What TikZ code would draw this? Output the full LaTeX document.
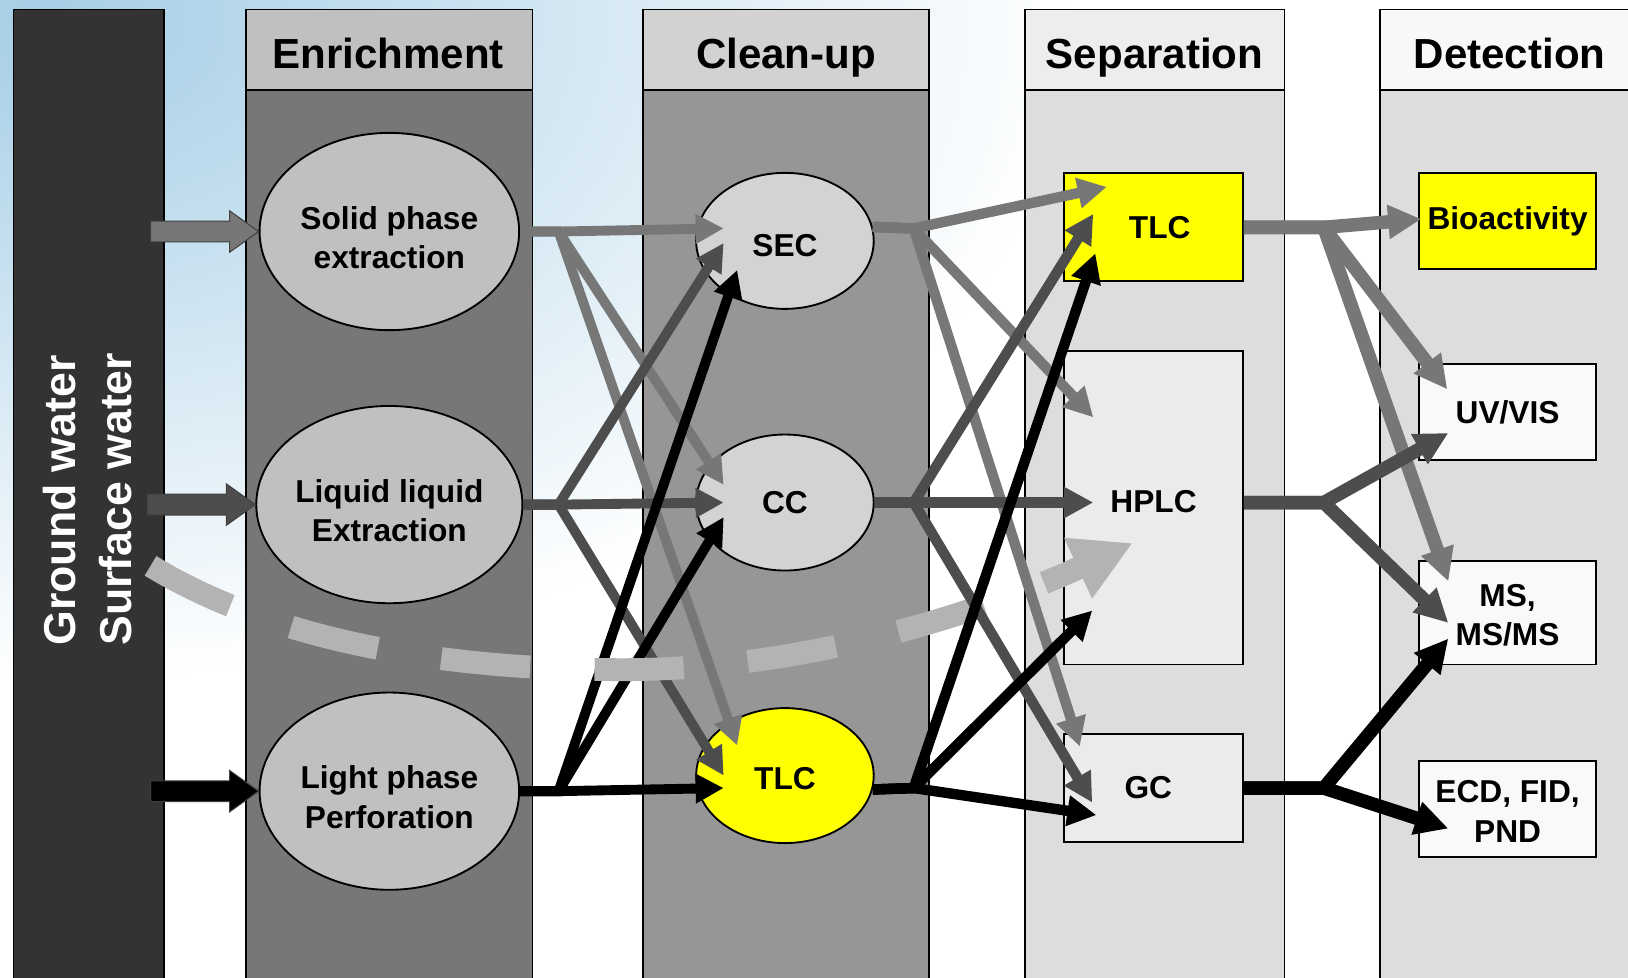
\documentclass[tikz,border=0pt]{standalone}
\usepackage{fontspec}
\setmainfont{Liberation Sans}
\usetikzlibrary{shapes.geometric,arrows.meta}
\definecolor{sky}{HTML}{A6CEE6}
\definecolor{barc}{HTML}{333333}
\definecolor{enh}{HTML}{C0C0C0}
\definecolor{enb}{HTML}{777777}
\definecolor{clh}{HTML}{D2D2D2}
\definecolor{clb}{HTML}{969696}
\definecolor{seh}{HTML}{EDEDED}
\definecolor{seb}{HTML}{DDDDDD}
\definecolor{deh}{HTML}{F8F8F8}
\definecolor{deb}{HTML}{DDDDDD}
\definecolor{ellA}{HTML}{C0C0C0}
\definecolor{ellB}{HTML}{D3D3D3}
\definecolor{boxs}{HTML}{EBEBEB}
\definecolor{boxd}{HTML}{F9F9F9}
\definecolor{ylw}{HTML}{FFFF00}
\definecolor{cg}{HTML}{777777}
\definecolor{cd}{HTML}{4D4D4D}
\definecolor{ck}{HTML}{000000}
\definecolor{dashc}{HTML}{B3B3B3}
\newcommand{\upstrut}{\rule{0pt}{34pt}}
\begin{document}
\begin{tikzpicture}[x=1pt,y=-1pt,
  colline/.style={draw=black, line width=1.6pt},
  hdr/.style={font=\bfseries\fontsize{40.5}{48}\selectfont, text height=29pt, text depth=0pt, inner sep=0pt},
  lbl/.style={font=\bfseries\fontsize{30.5}{38}\selectfont, align=center, inner sep=0pt},
  ell/.style={ellipse, draw=black, line width=1.8pt, lbl},
  bx/.style={rectangle, draw=black, line width=1.8pt, lbl},
  side/.style={rotate=90, anchor=base west, text=white, inner sep=0pt, font=\bfseries\fontsize{43}{50}\selectfont},
  barrow/.style={draw=black!75, line width=1pt, line join=miter},
  conA/.style={line width=9.5pt, line join=miter, -{Triangle[length=27pt,width=27pt]}},
  conB/.style={line width=10pt, line join=miter, -{Triangle[length=28pt,width=28pt]}},
  conC/.style={line width=13pt, line join=miter, -{Triangle[length=32pt,width=31pt]}},
  dashline/.style={draw=dashc, line width=22pt, dash pattern=on 86pt off 62pt, -{Triangle[length=58pt,width=60pt]}},
]
\useasboundingbox (0,0) rectangle (1568,941);
\clip (0,0) rectangle (1568,941);
% background
\fill[white] (0,0) rectangle (1568,941);
\shade[inner color=sky, outer color=white] (40,20) ellipse (1000 and 640);
% columns
\fill[barc] (13,9) rectangle (158,960);
\draw[colline] (13,960) -- (13,9) -- (158,9) -- (158,960);
\filldraw[fill=enb, colline] (237,87) rectangle (513,960);
\filldraw[fill=enh, colline] (237,9) rectangle (513,87);
\filldraw[fill=clb, colline] (619,87) rectangle (895,960);
\filldraw[fill=clh, colline] (619,9) rectangle (895,87);
\filldraw[fill=seb, colline] (987,87) rectangle (1237,960);
\filldraw[fill=seh, colline] (987,9) rectangle (1237,87);
\filldraw[fill=deb, colline] (1329,87) rectangle (1600,960);
\filldraw[fill=deh, colline] (1329,9) rectangle (1600,87);
% headers
\node[hdr] (henr) at (374,51) {Enrichment};
\node[hdr] (hcln) at (757,51) {Clean-up};
\node[hdr] (hsep) at (1112,51) {Separation};
\node[hdr] (hdet) at (1454,51) {Detection};
% side labels
\node[side] (gw) at (73,622) {Ground water};
\node[side] (sw) at (127,622) {Surface water};
% enrichment ellipses
\node[ell, fill=ellA, minimum width=250pt, minimum height=190pt] (spe) at (375,223) {\upstrut Solid phase\\extraction};
\node[ell, fill=ellA, minimum width=250pt, minimum height=190pt] (lle) at (375,486) {\upstrut Liquid liquid\\Extraction};
\node[ell, fill=ellA, minimum width=250pt, minimum height=190pt] (lpp) at (375,762) {\upstrut Light phase\\Perforation};
% block arrows
\filldraw[barrow, fill=cg] (spe.west) -- ++(-28,-20) -- ++(0,10) -- ++(-76,0) -- ++(0,20) -- ++(76,0) -- ++(0,10) -- cycle;
\filldraw[barrow, fill=cd] (lle.west) -- ++(-28,-20) -- ++(0,10) -- ++(-76,0) -- ++(0,20) -- ++(76,0) -- ++(0,10) -- cycle;
\filldraw[barrow, fill=ck] (lpp.west) -- ++(-28,-20) -- ++(0,10) -- ++(-76,0) -- ++(0,20) -- ++(76,0) -- ++(0,10) -- cycle;
% clean-up ellipses
\node[ell, fill=ellB, minimum width=171pt, minimum height=131pt, text height=30pt, text depth=0pt] (sec) at (756,232) {SEC};
\node[ell, fill=ellB, minimum width=171pt, minimum height=131pt] (cc) at (756,484) {CC};
\node[ell, fill=ylw, minimum width=171pt, minimum height=130pt, text height=26pt, text depth=0pt] (ctlc) at (756,747) {TLC};
% separation boxes
\node[bx, fill=ylw, minimum width=172pt, minimum height=104pt] (stlc) at (1111,219) {\hspace*{12pt}TLC};
\node[bx, fill=boxs, minimum width=172pt, minimum height=302pt, text depth=12pt] (hplc) at (1111,489) {HPLC};
\node[bx, fill=boxs, minimum width=172pt, minimum height=104pt] (gc) at (1111,759) {GC\hspace*{10pt}};
% detection boxes
\node[bx, fill=ylw, minimum width=171pt, minimum height=92pt] (bio) at (1452,213) {Bioactivity};
\node[bx, fill=boxd, minimum width=171pt, minimum height=92pt] (uv) at (1452,397) {UV/VIS};
\node[bx, fill=boxd, minimum width=171pt, minimum height=100pt] (ms) at (1452,590) {\rule{0pt}{26pt}MS,\\MS/MS};
\node[bx, fill=boxd, minimum width=171pt, minimum height=92pt] (ecd) at (1452,779) {\rule{0pt}{26pt}ECD, FID,\\PND};
% branch points
\coordinate (bS) at (538,223);
\coordinate (bL) at (538,486);
\coordinate (bP) at (538,762);
\coordinate (bSEC) at (880,220);
\coordinate (bCC) at (880,484);
\coordinate (bT) at (880,759);
\coordinate (bST) at (1275,219);
\coordinate (bH) at (1275,484);
\coordinate (bG) at (1275,759);
% tips
\coordinate (tSg) at (697,220);
\coordinate (tCg) at (697,467);
\coordinate (tTg) at (710,718);
\coordinate (tSd) at (697,234);
\coordinate (tCd) at (697,484);
\coordinate (tTd) at (697,747);
\coordinate (tSk) at (710,260);
\coordinate (tCk) at (697,498);
\coordinate (tTk) at (697,759);
\coordinate (tTLg) at (1066,180);
\coordinate (tHg) at (1053,402);
\coordinate (tGg) at (1040,719);
\coordinate (tTLd) at (1053,206);
\coordinate (tHd) at (1053,484);
\coordinate (tGd) at (1052,773);
\coordinate (tTLk) at (1055,244);
\coordinate (tHk) at (1052,588);
\coordinate (tGk) at (1056,785);
\coordinate (tBio) at (1369,211);
\coordinate (tUVg) at (1394,375);
\coordinate (tMSg) at (1395,560);
\coordinate (tUVd) at (1395,417);
\coordinate (tMSd) at (1395,600);
\coordinate (tMSk) at (1395,615);
\coordinate (tECD) at (1395,798);
% enrichment -> clean-up
\draw[conA, draw=cg] (spe.east) -- (bS) -- (tSg);
\draw[conA, draw=cg] (spe.east) -- (bS) -- (tCg);
\draw[conA, draw=cg] (spe.east) -- (bS) -- (tTg);
\draw[conA, draw=cd] (lle.east) -- (bL) -- (tSd);
\draw[conA, draw=cd] (lle.east) -- (bL) -- (tCd);
\draw[conA, draw=cd] (lle.east) -- (bL) -- (tTd);
\draw[conA, draw=ck] (lpp.east) -- (bP) -- (tSk);
\draw[conA, draw=ck] (lpp.east) -- (bP) -- (tCk);
\draw[conA, draw=ck] (lpp.east) -- (bP) -- (tTk);
% dashed curve
\coordinate (ds) at (145,545);
\coordinate (dm) at (600,645);
\coordinate (de) at (1091,523);
\draw[dashline] (ds) .. controls (260,615) and (420,645) .. (dm) .. controls (780,645) and (950,588) .. (de);
% clean-up -> separation
\draw[conB, draw=cg] (sec.9) -- (bSEC) -- (tTLg);
\draw[conB, draw=cg] (sec.9) -- (bSEC) -- (tHg);
\draw[conB, draw=cg] (sec.9) -- (bSEC) -- (tGg);
\draw[conB, draw=cd] (cc.east) -- (bCC) -- (tTLd);
\draw[conB, draw=cd] (cc.east) -- (bCC) -- (tHd);
\draw[conB, draw=cd] (cc.east) -- (bCC) -- (tGd);
\draw[conB, draw=ck] (ctlc.-9) -- (bT) -- (tTLk);
\draw[conB, draw=ck] (ctlc.-9) -- (bT) -- (tHk);
\draw[conB, draw=ck] (ctlc.-9) -- (bT) -- (tGk);
% separation -> detection
\draw[conC, draw=cg] (stlc.east) -- (bST) -- (tBio);
\draw[conC, draw=cg] (stlc.east) -- (bST) -- (tUVg);
\draw[conC, draw=cg] (stlc.east) -- (bST) -- (tMSg);
\draw[conC, draw=cd] (hplc.east |- bH) -- (bH) -- (tUVd);
\draw[conC, draw=cd] (hplc.east |- bH) -- (bH) -- (tMSd);
\draw[conC, draw=ck] (gc.east) -- (bG) -- (tMSk);
\draw[conC, draw=ck] (gc.east) -- (bG) -- (tECD);
\end{tikzpicture}
\end{document}
